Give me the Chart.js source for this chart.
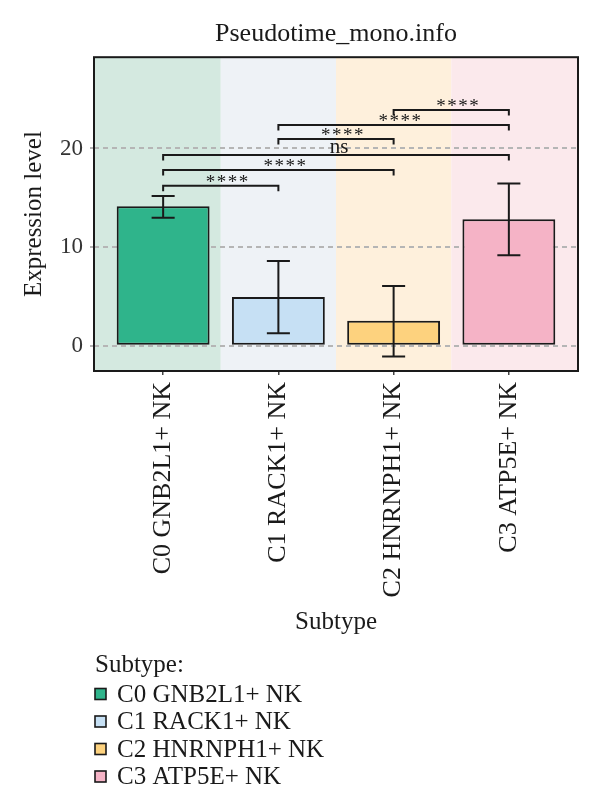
<!DOCTYPE html>
<html><head><meta charset="utf-8">
<script src="https://cdn.jsdelivr.net/npm/chart.js@4.4.1/dist/chart.umd.min.js"></script>
<style>html,body{margin:0;padding:0;background:#fff}#wrap{width:600px;height:807px}</style>
</head><body><div id="wrap"><canvas id="c" width="600" height="807"></canvas></div>
<script>
// ---- data ----
const categories = ['C0 GNB2L1+ NK', 'C1 RACK1+ NK', 'C2 HNRNPH1+ NK', 'C3 ATP5E+ NK'];
const meanValues = [14.14, 4.95, 2.53, 12.83];
const errLow = [12.99, 1.28, -1.07, 9.19];
const errHigh = [15.19, 8.59, 6.06, 16.46];
const yTicks = [0, 10, 20];
const sigPairs = [[0, 1], [0, 2], [0, 3], [1, 2], [1, 3], [2, 3]];
const sigLabels = ['****', '****', 'ns', '****', '****', '****'];
const sigLevels = [16.23, 17.82, 19.33, 20.95, 22.39, 23.91];

// ---- styles ----
const barColors = ['#2FB48B', '#C6E0F4', '#FDD27E', '#F5B3C6'];
const bandColors = ['#D4E9E0', '#EEF2F6', '#FEF0DC', '#FBE9EC'];
const FONT = "'Liberation Serif','Times New Roman',serif";
const INK = '#1a1a1a';
Chart.defaults.font.family = FONT;
Chart.defaults.color = INK;

const bandsPlugin = {
  id: 'bands',
  beforeDraw(chart) {
    const {ctx, chartArea: a, scales: {x}} = chart;
    ctx.save();
    ctx.fillStyle = '#fff';
    ctx.fillRect(0, 0, chart.width, chart.height);
    categories.forEach((c, i) => {
      let l = i === 0 ? a.left : x.getPixelForValue(i - 0.5);
      let r = i === categories.length - 1 ? a.right : x.getPixelForValue(i + 0.5);
      ctx.fillStyle = bandColors[i];
      ctx.fillRect(l, a.top, r - l, a.bottom - a.top);
    });
    ctx.restore();
  }
};

const overlayPlugin = {
  id: 'overlay',
  afterDatasetsDraw(chart) {
    const {ctx, chartArea: a, scales: {x, y}} = chart;
    ctx.save();
    ctx.strokeStyle = INK;
    ctx.lineWidth = 2;
    ctx.lineCap = 'butt';
    // error bars
    const capHalf = (x.getPixelForValue(1) - x.getPixelForValue(0)) * 0.1;
    categories.forEach((c, i) => {
      const px = x.getPixelForValue(i);
      const y1 = y.getPixelForValue(errLow[i]);
      const y2 = y.getPixelForValue(errHigh[i]);
      ctx.beginPath();
      ctx.moveTo(px, y1); ctx.lineTo(px, y2);
      ctx.moveTo(px - capHalf, y1); ctx.lineTo(px + capHalf, y1);
      ctx.moveTo(px - capHalf, y2); ctx.lineTo(px + capHalf, y2);
      ctx.stroke();
    });
    // significance brackets
    const tip = 5.5;
    ctx.fillStyle = INK;
    ctx.textAlign = 'center';
    ctx.textBaseline = 'alphabetic';
    sigPairs.forEach((p, k) => {
      const x1 = x.getPixelForValue(p[0]);
      const x2 = x.getPixelForValue(p[1]);
      const yy = y.getPixelForValue(sigLevels[k]);
      ctx.beginPath();
      ctx.moveTo(x1, yy + tip); ctx.lineTo(x1, yy); ctx.lineTo(x2, yy); ctx.lineTo(x2, yy + tip);
      ctx.stroke();
      const isStar = sigLabels[k].indexOf('*') >= 0;
      ctx.font = (isStar ? '19px ' : '21px ') + FONT;
      ctx.letterSpacing = isStar ? '1.5px' : '0px';
      const m = ctx.measureText(sigLabels[k]);
      const center = yy - 7.5;
      const base = center + (m.actualBoundingBoxAscent - m.actualBoundingBoxDescent) / 2;
      ctx.fillText(sigLabels[k], (x1 + x2) / 2 + (isStar ? 7 : 3), base);
    });
    ctx.letterSpacing = '0px';
    // panel border
    ctx.lineWidth = 2;
    ctx.strokeRect(a.left, a.top, a.right - a.left, a.bottom - a.top);
    ctx.restore();
  }
};

const legendPlugin = {
  id: 'customLegend',
  afterDraw(chart) {
    const {ctx} = chart;
    ctx.save();
    ctx.font = '25px ' + FONT;
    ctx.fillStyle = INK;
    ctx.textAlign = 'left';
    ctx.textBaseline = 'middle';
    ctx.fillText('Subtype:', 95, 665);
    categories.forEach((c, i) => {
      const cy = 694 + i * 27.5;
      ctx.fillStyle = barColors[i];
      ctx.fillRect(95, cy - 5.5, 11, 11);
      ctx.strokeStyle = INK;
      ctx.lineWidth = 1.6;
      ctx.strokeRect(95, cy - 5.5, 11, 11);
      ctx.fillStyle = INK;
      ctx.fillText(c, 117, cy + 1);
    });
    ctx.restore();
  }
};

new Chart(document.getElementById('c'), {
  type: 'bar',
  data: {
    datasets: [{
      label: 'Expression level',
      data: meanValues.map((v, i) => ({x: i, y: v})),
      backgroundColor: barColors,
      borderColor: INK,
      borderWidth: 2,
      borderSkipped: false,
      categoryPercentage: 1,
      barPercentage: 0.806
    }]
  },
  options: {
    responsive: false,
    animation: false,
    events: [],
    layout: {padding: {left: 0, right: 22, top: 0, bottom: 160}},
    plugins: {
      legend: {display: false},
      tooltip: {enabled: false},
      title: {
        display: true, text: 'Pseudotime_mono.info', fullSize: false,
        font: {size: 26, weight: 'normal', family: FONT}, color: INK,
        padding: {top: 19, bottom: 7}
      }
    },
    scales: {
      x: {
        type: 'linear', min: -0.6, max: 3.6, offset: false, bounds: 'data',
        afterBuildTicks: s => { s.ticks = categories.map((c, i) => ({value: i})); },
        afterFit: s => { s.height = 276; },
        ticks: {
          callback: v => categories[v], autoSkip: false, minRotation: 90, maxRotation: 90,
          font: {size: 26}, color: INK, padding: 7
        },
        grid: {display: true, offset: false, drawOnChartArea: false, drawTicks: true, tickLength: 4, color: '#444', lineWidth: 1.5},
        border: {display: false},
        title: {display: true, text: 'Subtype', font: {size: 25}, color: INK, padding: {top: 0, bottom: 10}}
      },
      y: {
        min: -2.55, max: 29.25, bounds: 'data',
        afterBuildTicks: s => { s.ticks = yTicks.map(v => ({value: v})); },
        afterFit: s => { s.width = 94; },
        ticks: {font: {size: 23}, color: '#333', padding: 7},
        grid: {color: '#b5b5b5', lineWidth: 2, tickLength: 4, tickColor: '#b5b5b5', tickBorderDash: []},
        border: {display: false, dash: [5, 4]},
        title: {display: true, text: 'Expression level', font: {size: 25}, color: INK, padding: {top: 19, bottom: 0}}
      }
    }
  },
  plugins: [bandsPlugin, overlayPlugin, legendPlugin]
});
</script>
</body></html>
